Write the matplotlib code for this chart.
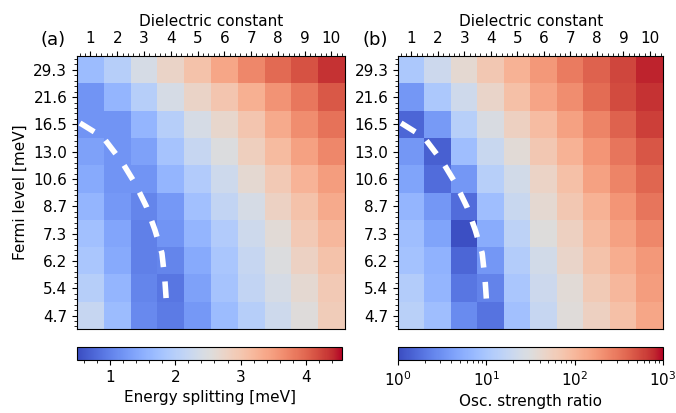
import matplotlib
matplotlib.use('Agg')
import matplotlib.pyplot as plt
import numpy as np
from matplotlib.colors import LogNorm
from matplotlib.ticker import AutoMinorLocator

dielectric = [1, 2, 3, 4, 5, 6, 7, 8, 9, 10]
fermiLabels = ['4.7', '5.4', '6.2', '7.3', '8.7', '10.6', '13.0', '16.5', '21.6', '29.3']

# rows from bottom (4.7 meV) to top (29.3 meV), columns eps = 1..10
splitting = [
    [2.2, 1.7, 1.1, 0.95, 1.25, 1.7, 2.0, 2.3, 2.55, 2.9],
    [2.0, 1.6, 1.05, 0.9, 1.35, 1.8, 2.15, 2.4, 2.65, 2.95],
    [1.85, 1.45, 1.0, 1.05, 1.45, 1.85, 2.2, 2.5, 2.8, 3.05],
    [1.75, 1.4, 1.0, 1.2, 1.6, 1.95, 2.3, 2.6, 2.95, 3.2],
    [1.6, 1.25, 1.05, 1.25, 1.75, 2.15, 2.4, 2.8, 3.05, 3.35],
    [1.45, 1.2, 1.2, 1.6, 1.95, 2.3, 2.65, 2.95, 3.25, 3.5],
    [1.35, 1.2, 1.35, 1.8, 2.2, 2.5, 2.85, 3.15, 3.45, 3.7],
    [1.2, 1.2, 1.6, 2.0, 2.4, 2.7, 3.0, 3.35, 3.65, 3.9],
    [1.2, 1.6, 2.0, 2.4, 2.75, 3.0, 3.3, 3.6, 3.85, 4.1],
    [1.7, 2.0, 2.4, 2.75, 3.05, 3.4, 3.7, 3.95, 4.15, 4.35],
]

oscRatio = [
    [14, 8, 2.8, 1.9, 8.5, 18, 34, 52, 83, 140],
    [12, 6.5, 2.0, 2.5, 10, 21, 36, 63, 100, 165],
    [9, 6, 1.5, 3.5, 12, 24, 45, 78, 125, 180],
    [8, 4.5, 1.07, 5.2, 15, 32, 52, 95, 155, 235],
    [6.5, 3.5, 1.7, 8, 19, 39, 68, 110, 190, 310],
    [4.5, 1.7, 3.5, 13, 24, 48, 83, 155, 250, 380],
    [3.5, 1.4, 8, 19, 36, 68, 110, 190, 310, 480],
    [1.5, 3.7, 13, 28, 52, 90, 155, 250, 400, 620],
    [3.5, 10.5, 22, 45, 83, 145, 220, 355, 540, 710],
    [10.5, 21, 39, 68, 110, 178, 288, 407, 575, 813],
]

# dashed boundary line (x in dielectric units, y in row index)
lineX = [0.61, 1.47, 2.18, 2.66, 3.1, 3.41, 3.67, 3.78, 3.86]
lineY = [7.05, 6.53, 5.62, 4.85, 3.97, 3.13, 2.28, 1.3, 0.16]

plt.rcParams['font.size'] = 11

fig = plt.figure(figsize=(6.76, 4.13), dpi=100)
axA = fig.add_axes([0.114, 0.203, 0.396, 0.661])
axB = fig.add_axes([0.589, 0.203, 0.392, 0.661])
caxA = fig.add_axes([0.114, 0.128, 0.392, 0.032])
caxB = fig.add_axes([0.589, 0.128, 0.392, 0.032])

ext = [0.5, 10.5, -0.5, 9.5]
imA = axA.imshow(np.array(splitting), cmap='coolwarm', vmin=0.5, vmax=4.55,
                 origin='lower', extent=ext, aspect='auto')
imB = axB.imshow(np.array(oscRatio), cmap='coolwarm', norm=LogNorm(vmin=1, vmax=1000),
                 origin='lower', extent=ext, aspect='auto')

for ax, lab in [(axA, '(a)'), (axB, '(b)')]:
    ax.plot(lineX, lineY, color='white', lw=4, ls=(0, (3, 2.6)))
    ax.set_xlim(0.5, 10.5)
    ax.set_ylim(-0.5, 9.5)
    ax.xaxis.tick_top()
    ax.xaxis.set_label_position('top')
    ax.set_xticks(dielectric)
    ax.set_yticks(range(len(fermiLabels)))
    ax.set_yticklabels(fermiLabels)
    ax.xaxis.set_minor_locator(AutoMinorLocator(5))
    ax.yaxis.set_minor_locator(AutoMinorLocator(5))
    ax.tick_params(which='both', top=True, bottom=False, left=True, right=False)
    ax.set_xlabel('Dielectric constant')
    ax.text(-0.135, 1.06, lab, transform=ax.transAxes, fontsize=13, va='center')

axA.set_ylabel('Fermi level [meV]')

cbA = fig.colorbar(imA, cax=caxA, orientation='horizontal')
cbA.set_ticks([1, 2, 3, 4])
cbA.ax.xaxis.set_minor_locator(AutoMinorLocator(5))
cbA.set_label('Energy splitting [meV]')
cbB = fig.colorbar(imB, cax=caxB, orientation='horizontal')
cbB.set_label('Osc. strength ratio')

fig.savefig('out.png', dpi=100)
